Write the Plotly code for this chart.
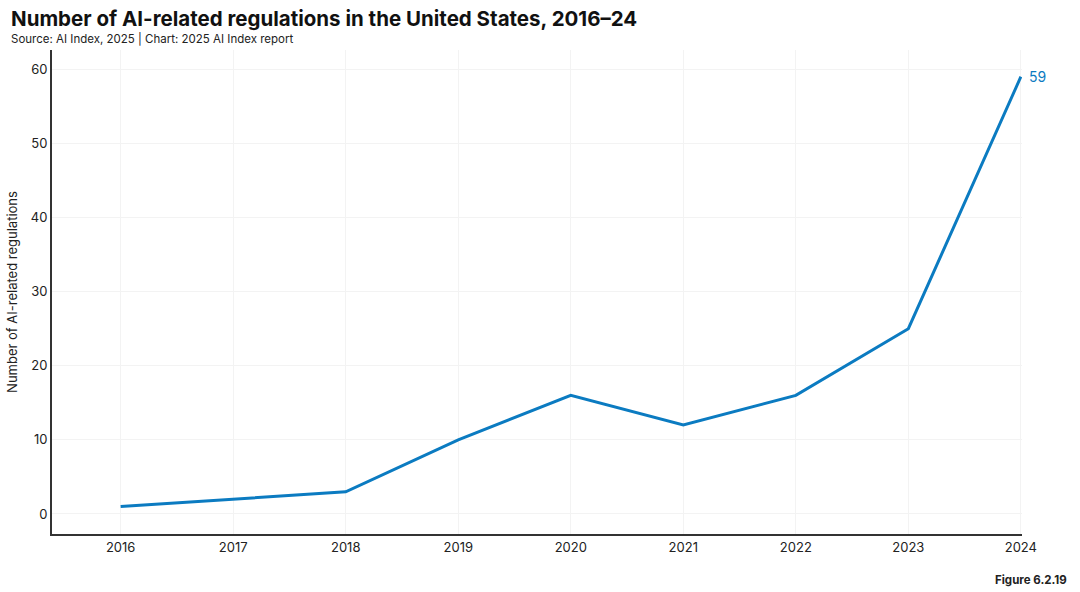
import plotly.graph_objects as go

years = [2016, 2017, 2018, 2019, 2020, 2021, 2022, 2023, 2024]
regulations = [1, 2, 3, 10, 16, 12, 16, 25, 59]
y_ticks = [0, 10, 20, 30, 40, 50, 60]

line_color = "#0B7BC1"
font_family = "Inter, Roboto, sans-serif"

PW, PH = 972, 484  # plot area size in px

fig = go.Figure()
fig.add_trace(go.Scatter(
    x=years, y=regulations, mode="lines",
    line=dict(color=line_color, width=3),
    cliponaxis=False, showlegend=False,
    hovertemplate="%{x}: %{y}<extra></extra>",
))
fig.add_annotation(
    x=years[-1], y=regulations[-1], text=str(regulations[-1]),
    showarrow=False, xanchor="left", xshift=6, yshift=0,
    font=dict(color=line_color, size=14, family=font_family),
)

fig.update_layout(
    width=1080, height=592,
    paper_bgcolor="white", plot_bgcolor="white",
    margin=dict(l=50, r=58, t=50, b=58),
    font=dict(family=font_family, color="#222222", size=13),
    xaxis=dict(
        range=[2015.39, 2024.01], tickvals=years, ticktext=[str(y) for y in years],
        showgrid=True, gridcolor="#F3F3F3", gridwidth=1,
        showline=True, linecolor="#333333", linewidth=2,
        ticks="", zeroline=False, tickfont=dict(size=13),
    ),
    yaxis=dict(
        range=[-2.7, 62.6], tickvals=y_ticks,
        showgrid=True, gridcolor="#F3F3F3", gridwidth=1,
        showline=True, linecolor="#333333", linewidth=2,
        ticks="", zeroline=False, tickfont=dict(size=13),
        title=dict(text="Number of AI-related regulations", font=dict(size=13), standoff=10),
    ),
    annotations=list(fig.layout.annotations) + [
        dict(text="<b>Number of AI-related regulations in the United States, 2016–24</b>",
             xref="paper", yref="paper", x=-43/PW, y=1 + 32/PH, xanchor="left", yanchor="middle",
             showarrow=False, font=dict(size=20.5, color="#111111", family=font_family)),
        dict(text="Source: AI Index, 2025 | Chart: 2025 AI Index report",
             xref="paper", yref="paper", x=-43/PW, y=1 + 11/PH, xanchor="left", yanchor="middle",
             showarrow=False, font=dict(size=11.5, color="#222222", family=font_family)),
        dict(text="<b>Figure 6.2.19</b>",
             xref="paper", yref="paper", x=1 + 47/PW, y=-46/PH, xanchor="right", yanchor="middle",
             showarrow=False, font=dict(size=11.5, color="#222222", family=font_family)),
    ],
)

fig.write_html("out.html", config={"displayModeBar": False},
               post_script="document.body.style.margin='0';document.body.style.overflow='hidden';")
